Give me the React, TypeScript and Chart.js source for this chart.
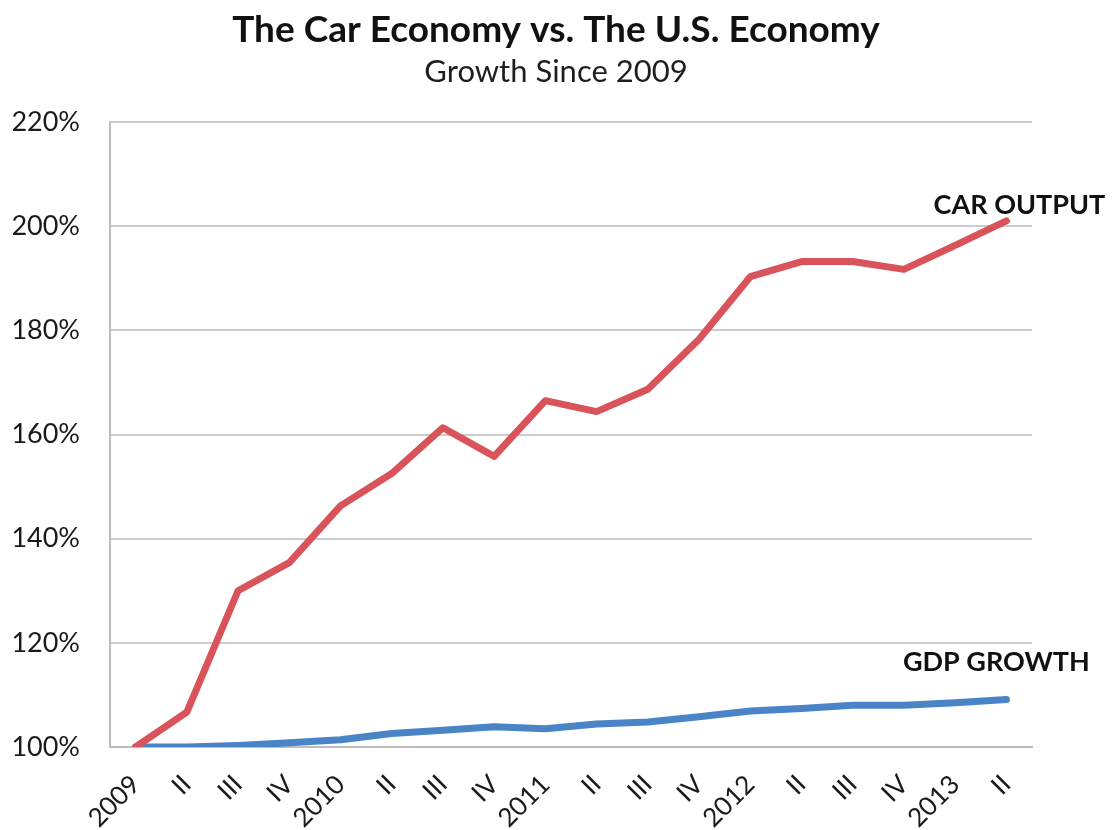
import React, { useEffect, useRef } from "react";
import { Chart, registerables } from "chart.js";

Chart.register(...registerables);

const quarters = ["2009", "II", "III", "IV", "2010", "II", "III", "IV", "2011", "II", "III", "IV", "2012", "II", "III", "IV", "2013", "II"];
const carOutput = [100, 106.7, 130, 135.4, 146.3, 152.5, 161.3, 155.8, 166.5, 164.4, 168.7, 178.3, 190.3, 193.2, 193.2, 191.7, 196.3, 201];
const gdpGrowth = [100, 100, 100.3, 100.8, 101.4, 102.6, 103.2, 103.9, 103.5, 104.4, 104.8, 105.8, 106.9, 107.4, 108, 108, 108.5, 109.1];
const seriesNames = ["CAR OUTPUT", "GDP GROWTH"];
const seriesColors = ["#d9545a", "#4884c6"];
const yMin = 100;
const yMax = 220;
const yStep = 20;
const titleText = "The Car Economy vs. The U.S. Economy";
const subtitleText = "Growth Since 2009";

const FONT = "Lato, 'Open Sans', sans-serif";

const headerPlugin = {
  id: "header",
  afterDraw(chart: any) {
    const ctx = chart.ctx;
    const cx = chart.width / 2;
    ctx.save();
    ctx.textAlign = "center";
    ctx.textBaseline = "middle";
    ctx.fillStyle = "#111";
    ctx.font = `bold 37px ${FONT}`;
    ctx.fillText(titleText, cx, 30);
    ctx.fillStyle = "#1e1e1e";
    ctx.font = `31px ${FONT}`;
    ctx.fillText(subtitleText, cx, 72);
    ctx.restore();
  },
};

const endLabels = {
  id: "endLabels",
  afterDatasetsDraw(chart: any) {
    const ctx = chart.ctx;
    const offsets = [
      [13, -16],
      [-10, -37],
    ];
    ctx.save();
    ctx.font = `bold 27px ${FONT}`;
    ctx.fillStyle = "#111";
    ctx.textAlign = "center";
    ctx.textBaseline = "middle";
    chart.data.datasets.forEach((ds: any, i: number) => {
      const meta = chart.getDatasetMeta(i);
      const pt = meta.data[meta.data.length - 1];
      if (!pt) return;
      ctx.fillText(seriesNames[i], pt.x + offsets[i][0], pt.y + offsets[i][1]);
    });
    ctx.restore();
  },
};

export default function App() {
  const ref = useRef<HTMLCanvasElement | null>(null);

  useEffect(() => {
    document.body.style.margin = "0";
    const canvas = ref.current;
    if (!canvas) return;
    const chart = new Chart(canvas, {
      type: "line",
      data: {
        labels: quarters,
        datasets: [
          {
            label: seriesNames[0],
            data: carOutput,
            borderColor: seriesColors[0],
            backgroundColor: seriesColors[0],
            borderWidth: 7,
            pointRadius: 0,
            tension: 0,
            borderJoinStyle: "round",
            borderCapStyle: "round",
          },
          {
            label: seriesNames[1],
            data: gdpGrowth,
            borderColor: seriesColors[1],
            backgroundColor: seriesColors[1],
            borderWidth: 7,
            pointRadius: 0,
            tension: 0,
            borderJoinStyle: "round",
            borderCapStyle: "round",
          },
        ],
      },
      options: {
        responsive: false,
        animation: false,
        layout: { padding: { left: 0, right: 80, top: 122, bottom: 0 } },
        plugins: {
          legend: { display: false },
          tooltip: { enabled: false },
          title: { display: false },
          subtitle: { display: false },
        },
        scales: {
          x: {
            offset: true,
            grid: { display: false, drawTicks: false },
            border: { display: true, color: "#bdbdbd", width: 2 },
            ticks: {
              color: "#1a1a1a",
              font: { family: FONT, size: 26 },
              maxRotation: 45,
              minRotation: 45,
              autoSkip: false,
              padding: 22,
            },
            afterFit: (scale: any) => {
              scale.height = 83;
            },
          },
          y: {
            min: yMin,
            max: yMax,
            grid: { color: "#cccccc", lineWidth: 2, drawTicks: false },
            border: { display: true, color: "#bdbdbd", width: 2 },
            ticks: {
              stepSize: yStep,
              color: "#1a1a1a",
              font: { family: FONT, size: 27 },
              padding: 30,
              callback: (v: any) => `${v}%`,
            },
            afterFit: (scale: any) => {
              scale.width = 110;
            },
          },
        },
      },
      plugins: [endLabels, headerPlugin],
    });
    return () => chart.destroy();
  }, []);

  return (
    <div style={{ width: 1112, height: 830, background: "#fff" }}>
      <canvas ref={ref} width={1112} height={830} style={{ display: "block" }} />
    </div>
  );
}
